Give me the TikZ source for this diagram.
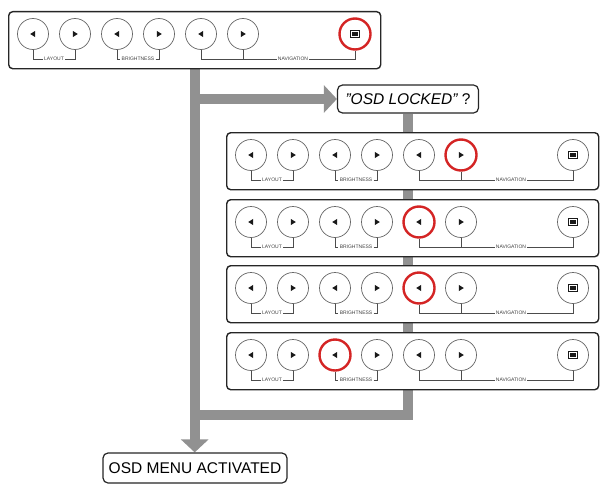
\documentclass[tikz,border=0pt]{standalone}
\usepackage{fontspec}
\setmainfont{Liberation Sans}
\usetikzlibrary{arrows.meta,backgrounds}
\definecolor{flowgray}{RGB}{145,145,145}
\definecolor{hotred}{RGB}{212,36,36}
\tikzset{
  panelbox/.style={draw=black!85, line width=1.4pt, rounded corners=4pt, minimum width=372pt, minimum height=57pt, inner sep=0pt, fill=white},
  btn/.style={circle, draw=black!60, line width=0.7pt, minimum size=31pt, inner sep=0pt, fill=white},
  hot/.style={draw=hotred, line width=2.4pt},
  brk/.style={draw=black!70, line width=0.6pt},
  tinylbl/.style={font=\fontsize{5}{5}\selectfont, inner sep=1.2pt, text=black!75},
  flow/.style={draw=flowgray, line width=10pt},
  flowtip/.style={-{Triangle[width=27pt,length=13pt]}},
  textbox/.style={draw=black!85, line width=1.2pt, rounded corners=5pt, fill=white, inner sep=0pt, font=\fontsize{15.5}{18}\selectfont}
}
\newcommand\drawpanel[4]{%
  \node[panelbox, anchor=north west] (#1) at (#2,#3) {};
  \foreach \i/\dx in {1/25,2/67,3/109,4/151,5/193,6/235,7/347}{
    \ifnum\i=#4 \def\btnstyle{hot}\else\def\btnstyle{}\fi
    \node[btn,\btnstyle] (#1-\i) at ({#2+\dx},{#3+23}) {};
  }
  \foreach \i in {1,3,5}{
    \fill[black!90] (#1-\i.center) ++(-2.8,0) -- ++(5,-3.1) -- ++(0,6.2) -- cycle;
  }
  \foreach \i in {2,4,6}{
    \fill[black!90] (#1-\i.center) ++(2.8,0) -- ++(-5,-3.1) -- ++(0,6.2) -- cycle;
  }
  \draw[black!90, line width=0.8pt] (#1-7.center) ++(-4.5,-3.3) rectangle ++(9,6.6);
  \fill[black!90] (#1-7.center) ++(-3,-2) rectangle ++(6,4);
  \node[tinylbl] (#1-lay) at ({#2+46},{#3+48}) {LAYOUT};
  \node[tinylbl] (#1-bri) at ({#2+130},{#3+48}) {BRIGHTNESS};
  \node[tinylbl] (#1-nav) at ({#2+285},{#3+48}) {NAVIGATION};
  \draw[brk] (#1-1.south) |- (#1-lay.west);
  \draw[brk] (#1-lay.east) -| (#1-2.south);
  \draw[brk] (#1-3.south) |- (#1-bri.west);
  \draw[brk] (#1-bri.east) -| (#1-4.south);
  \draw[brk] (#1-5.south) |- (#1-nav.west);
  \draw[brk] (#1-nav.east) -| (#1-7.south);
  \draw[brk] (#1-6.south) -- (#1-6.south |- #1-nav);
}
\begin{document}
\begin{tikzpicture}[x=1pt,y=-1pt]
  \useasboundingbox (0,0) rectangle (604,487);
  \drawpanel{p0}{8}{11}{7}
  \drawpanel{p1}{226}{132}{6}
  \drawpanel{p2}{226}{199}{5}
  \drawpanel{p3}{226}{265}{5}
  \drawpanel{p4}{226}{332}{3}
  \node[textbox, minimum width=141pt, minimum height=28pt] (locked) at (408,99)
    {\itshape{\char34}OSD LOCKED{\char34}\upshape\ ?};
  \node[textbox, minimum width=184pt, minimum height=30pt] (menu) at (195,468)
    {OSD MENU ACTIVATED};
  \coordinate (join) at (194.5,415);
  \begin{pgfonlayer}{background}
    \draw[flow, flowtip] (p0.south) -- (p0.south |- menu.north);
    \draw[flow, flowtip] (p0.south |- locked.west) -- (locked.west);
    \draw[flow] (locked.south) -- (locked.south |- p1.north);
    \draw[flow] (locked.south |- p1.south) -- (locked.south |- p2.north);
    \draw[flow] (locked.south |- p2.south) -- (locked.south |- p3.north);
    \draw[flow] (locked.south |- p3.south) -- (locked.south |- p4.north);
    \draw[flow] (locked.south |- p4.south) |- (join);
  \end{pgfonlayer}
\end{tikzpicture}
\end{document}
